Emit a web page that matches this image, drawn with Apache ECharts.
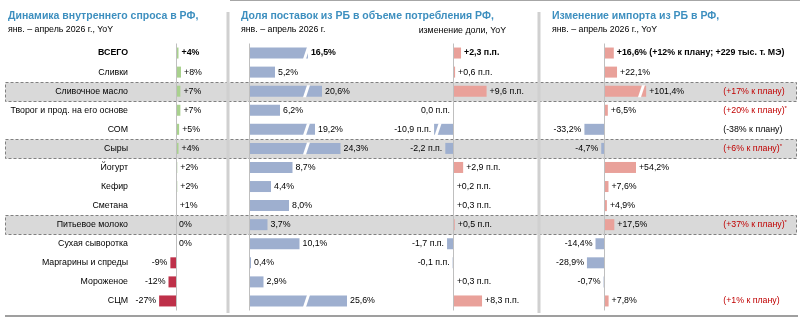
<!DOCTYPE html>
<html>
<head>
<meta charset="utf-8">
<script src="https://cdn.jsdelivr.net/npm/echarts@6/dist/echarts.min.js"></script>
<style>
html, body { margin: 0; padding: 0; background: #fff; }
#chart { width: 800px; height: 318px; }
</style>
</head>
<body>
<div id="chart"></div>
<script>
// rows (top to bottom)
var categories = ['ВСЕГО', 'Сливки', 'Сливочное масло', 'Творог и прод. на его основе', 'СОМ', 'Сыры',
    'Йогурт', 'Кефир', 'Сметана', 'Питьевое молоко', 'Сухая сыворотка', 'Маргарины и спреды', 'Мороженое', 'СЦМ'];
// Динамика внутреннего спроса, %
var demandYoY = [4, 8, 7, 7, 5, 4, 2, 2, 1, 0, 0, -9, -12, -27];
// Доля поставок из РБ, %
var shareRB = [16.5, 5.2, 20.6, 6.2, 19.2, 24.3, 8.7, 4.4, 8.0, 3.7, 10.1, 0.4, 2.9, 25.6];
// изменение доли, п.п.
var shareChange = [2.3, 0.6, 9.6, 0.0, -10.9, -2.2, 2.9, 0.2, 0.3, 0.5, -1.7, -0.1, 0.3, 8.3];
// Изменение импорта, %
var importYoY = [16.6, 22.1, 101.4, 6.5, -33.2, -4.7, 54.2, 7.6, 4.9, 17.5, -14.4, -28.9, -0.7, 7.8];
var totalNote = ' (+12% к плану; +229 тыс. т. МЭ)';
var planNotes = ['', '', '(+17% к плану)', '(+20% к плану)*', '(-38% к плану)', '(+6% к плану)*',
    '', '', '', '(+37% к плану)*', '', '', '', '(+1% к плану)'];
var highlighted = ['Сливочное масло', 'Сыры', 'Питьевое молоко'];

var FONT = 'Liberation Sans';
var FS = 8.8;
var GREEN = '#a9d18e', CRIMSON = '#be3049', BLUE = '#9eafcf', PINK = '#e9a19a';
var TITLE = '#3d8fbf';

function comma(v) {
    return v.toFixed(1).replace('.', ',');
}

function items(vals, posColor, negColor, zeroLeft) {
    return vals.map(function (v, i) {
        var left = v < 0 || (v === 0 && zeroLeft);
        return {
            value: v,
            itemStyle: { color: v >= 0 ? posColor : negColor },
            label: { position: left ? 'left' : 'right', fontWeight: i === 0 ? 'bold' : 'normal' }
        };
    });
}

function zeroLine() {
    return {
        silent: true, symbol: 'none', animation: false,
        label: { show: false },
        lineStyle: { color: '#bfbfbf', width: 1, type: 'solid' },
        data: [{ xAxis: 0 }]
    };
}

// white slash drawn where a bar crosses the axis break
function slashSeries(axisIdx, vals, start, end) {
    var rows = [];
    vals.forEach(function (v, i) {
        if ((start > 0 && v > start) || (start < 0 && v < start)) rows.push([v, i]);
    });
    return {
        type: 'custom', xAxisIndex: axisIdx, yAxisIndex: axisIdx, z: 5, silent: true,
        data: rows,
        encode: { x: 0, y: 1 },
        renderItem: function (params, api) {
            var row = api.value(1);
            var a = api.coord([start, row]);
            var b = api.coord([end, row]);
            var m = (a[0] + b[0]) / 2, y = a[1];
            return {
                type: 'polygon',
                shape: { points: [[m - 3.5, y + 6], [m - 0.5, y + 6], [m + 3.5, y - 6], [m + 0.5, y - 6]] },
                style: { fill: '#fff' }
            };
        }
    };
}

var labelBase = { show: true, fontSize: FS, color: '#000', fontFamily: FONT, distance: 3 };

var chart = echarts.init(document.getElementById('chart'));

var titles = [
    { text: 'Динамика внутреннего спроса в РФ,', subtext: 'янв. – апрель 2026 г., YoY', left: 8, top: 11 },
    { text: 'Доля поставок из РБ в объеме потребления РФ,', subtext: 'янв. – апрель 2026 г.', left: 241, top: 11 },
    { text: 'Изменение импорта из РБ в РФ,', subtext: 'янв. – апрель 2026 г., YoY', left: 552, top: 11 }
].map(function (t) {
    t.padding = 0;
    t.itemGap = 3;
    t.textStyle = { fontSize: 10.5, fontWeight: 'bold', color: TITLE, fontFamily: FONT };
    t.subtextStyle = { fontSize: FS, color: '#000', fontFamily: FONT };
    return t;
});
titles.push({
    text: 'изменение доли, YoY', left: 506, textAlign: 'right', top: 26, padding: 0,
    textStyle: { fontSize: FS, fontWeight: 'normal', color: '#000', fontFamily: FONT }
});

var option = {
    animation: false,
    textStyle: { fontFamily: FONT },
    title: titles,
    grid: [
        { left: 151, top: 43.5, width: 50, height: 267 },
        { left: 249, top: 43.5, width: 120, height: 267 },
        { left: 430.25, top: 43.5, width: 64.75, height: 267 },
        { left: 580.4, top: 43.5, width: 70.8, height: 267 }
    ],
    xAxis: [
        { gridIndex: 0, type: 'value', min: -40, max: 40, show: false, splitLine: { show: false } },
        { gridIndex: 1, type: 'value', min: 0, max: 30, show: false, splitLine: { show: false },
            breaks: [{ start: 11, end: 18, gap: 1 }], breakArea: { show: false } },
        { gridIndex: 2, type: 'value', min: -12, max: 12, show: false, splitLine: { show: false },
            breaks: [{ start: -10, end: -4, gap: 0.5 }], breakArea: { show: false } },
        { gridIndex: 3, type: 'value', min: -40, max: 110, show: false, splitLine: { show: false },
            breaks: [{ start: 62, end: 95, gap: 3 }], breakArea: { show: false } }
    ],
    yAxis: [
        {
            gridIndex: 0, type: 'category', inverse: true, data: categories,
            axisLine: { show: false }, axisTick: { show: false },
            axisLabel: {
                margin: 23, fontSize: FS, color: '#000', fontFamily: FONT,
                formatter: function (v, i) { return i === 0 ? '{b|' + v + '}' : v; },
                rich: { b: { fontWeight: 'bold', fontSize: FS, fontFamily: FONT } }
            }
        },
        { gridIndex: 1, type: 'category', inverse: true, data: categories, show: false },
        { gridIndex: 2, type: 'category', inverse: true, data: categories, show: false },
        { gridIndex: 3, type: 'category', inverse: true, data: categories, show: false },
        {
            gridIndex: 3, type: 'category', inverse: true, data: planNotes, position: 'right',
            axisLine: { show: false }, axisTick: { show: false },
            axisLabel: {
                margin: 72, align: 'left', fontSize: FS, fontFamily: FONT,
                formatter: function (v) {
                    if (!v) return '';
                    var st = v.charAt(1) === '-' ? 'k' : 'r';
                    var star = v.charAt(v.length - 1) === '*';
                    var body = star ? v.slice(0, -1) : v;
                    return '{' + st + '|' + body + '}' + (star ? '{s|*}' : '');
                },
                rich: {
                    r: { color: '#c00000', fontSize: FS, fontFamily: FONT },
                    k: { color: '#000', fontSize: FS, fontFamily: FONT },
                    s: { color: '#c00000', fontSize: 6, fontFamily: FONT, verticalAlign: 'top', padding: [0, 0, 4, 0] }
                }
            }
        }
    ],
    series: [
        {
            type: 'bar', xAxisIndex: 0, yAxisIndex: 0, barWidth: 11,
            data: items(demandYoY, GREEN, CRIMSON, false),
            label: Object.assign({}, labelBase, {
                formatter: function (p) { return (p.value > 0 ? '+' : '') + p.value + '%'; }
            }),
            markLine: zeroLine()
        },
        {
            type: 'bar', xAxisIndex: 1, yAxisIndex: 1, barWidth: 11,
            data: items(shareRB, BLUE, BLUE, false),
            label: Object.assign({}, labelBase, {
                formatter: function (p) { return comma(p.value) + '%'; }
            }),
            markLine: zeroLine()
        },
        {
            type: 'bar', xAxisIndex: 2, yAxisIndex: 2, barWidth: 11,
            data: items(shareChange, PINK, BLUE, true),
            label: Object.assign({}, labelBase, {
                formatter: function (p) { return (p.value > 0 ? '+' : '') + comma(p.value) + ' п.п.'; }
            }),
            markLine: zeroLine()
        },
        {
            type: 'bar', xAxisIndex: 3, yAxisIndex: 3, barWidth: 11,
            data: items(importYoY, PINK, BLUE, true),
            label: Object.assign({}, labelBase, {
                formatter: function (p) {
                    var s = (p.value > 0 ? '+' : '') + comma(p.value) + '%';
                    return p.dataIndex === 0 ? s + totalNote : s;
                }
            }),
            markLine: zeroLine()
        },
        slashSeries(1, shareRB, 11, 18),
        slashSeries(2, shareChange, -10, -4),
        slashSeries(3, importYoY, 62, 95)
    ]
};

chart.setOption(option);

// highlighted rows, column separators and frame lines
var graphics = [];
highlighted.forEach(function (name) {
    var y = chart.convertToPixel({ yAxisIndex: 0 }, name);
    graphics.push({
        type: 'rect', z: -10, silent: true,
        shape: { x: 5.5, y: Math.round(y - 9.5) + 0.5, width: 791, height: 19 },
        style: { fill: '#d9d9d9', stroke: '#808080', lineWidth: 1, lineDash: [3, 2] }
    });
});
[228, 539].forEach(function (x) {
    graphics.push({
        type: 'rect', z: -5, silent: true,
        shape: { x: x - 1.5, y: 12, width: 3, height: 301 },
        style: { fill: '#d0d0d0' }
    });
});
graphics.push({
    type: 'line', silent: true,
    shape: { x1: 5, y1: 316, x2: 798, y2: 316 },
    style: { stroke: '#7f7f7f', lineWidth: 1.5 }
});
graphics.push({
    type: 'line', silent: true,
    shape: { x1: 230, y1: 0.5, x2: 800, y2: 0.5 },
    style: { stroke: '#a6a6a6', lineWidth: 1 }
});
chart.setOption({ graphic: graphics });
</script>
</body>
</html>
